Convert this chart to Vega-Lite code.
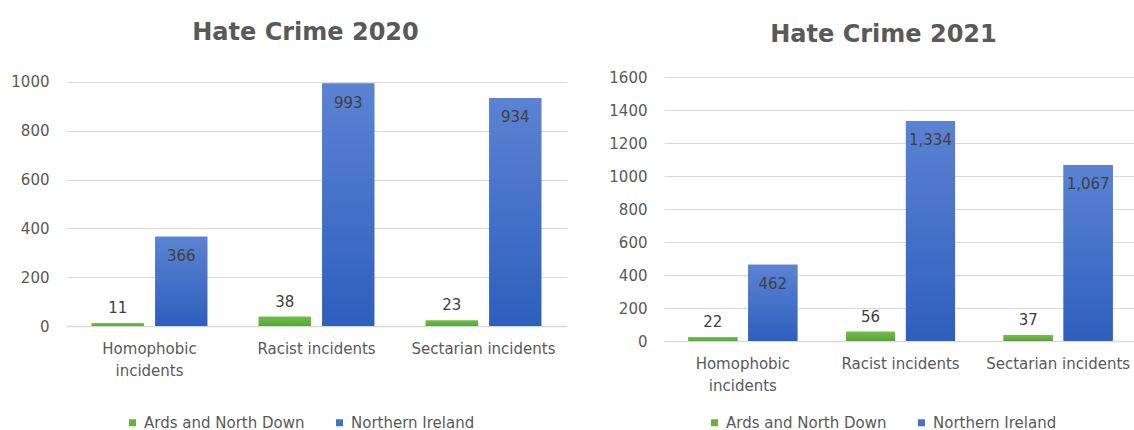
{
  "$schema": "https://vega.github.io/schema/vega-lite/v6.json",
  "background": "white",
  "padding": {"left": 10, "top": 20, "right": 0, "bottom": 0},
  "datasets": {
    "crime": [
      {"year": 2020, "category": "Homophobic incidents", "series": "Ards and North Down", "value": 11},
      {"year": 2020, "category": "Homophobic incidents", "series": "Northern Ireland", "value": 366},
      {"year": 2020, "category": "Racist incidents", "series": "Ards and North Down", "value": 38},
      {"year": 2020, "category": "Racist incidents", "series": "Northern Ireland", "value": 993},
      {"year": 2020, "category": "Sectarian incidents", "series": "Ards and North Down", "value": 23},
      {"year": 2020, "category": "Sectarian incidents", "series": "Northern Ireland", "value": 934},
      {"year": 2021, "category": "Homophobic incidents", "series": "Ards and North Down", "value": 22},
      {"year": 2021, "category": "Homophobic incidents", "series": "Northern Ireland", "value": 462},
      {"year": 2021, "category": "Racist incidents", "series": "Ards and North Down", "value": 56},
      {"year": 2021, "category": "Racist incidents", "series": "Northern Ireland", "value": 1334},
      {"year": 2021, "category": "Sectarian incidents", "series": "Ards and North Down", "value": 37},
      {"year": 2021, "category": "Sectarian incidents", "series": "Northern Ireland", "value": 1067}
    ]
  },
  "config": {
    "font": "DejaVu Sans",
    "view": {"stroke": null},
    "title": {"font": "DejaVu Sans", "fontSize": 24, "fontWeight": "bold", "color": "#595959", "anchor": "middle"},
    "axisX": {
      "title": null, "labelAngle": 0, "ticks": false, "domainColor": "#d9d9d9", "domainWidth": 1.5,
      "labelColor": "#595959", "labelFont": "DejaVu Sans", "labelFontSize": 15, "labelPadding": 15,
      "labelLineHeight": 22, "grid": false,
      "labelExpr": "datum.label == 'Homophobic incidents' ? ['Homophobic', 'incidents'] : datum.label"
    },
    "axisY": {
      "title": null, "domain": false, "ticks": false, "grid": true, "gridColor": "#d9d9d9", "gridWidth": 1.2,
      "labelColor": "#595959", "labelFont": "DejaVu Sans", "labelFontSize": 15, "labelPadding": 17, "format": "d"
    },
    "legend": {
      "orient": "none", "direction": "horizontal", "title": null, "symbolType": "square", "symbolSize": 49,
      "labelFont": "DejaVu Sans", "labelFontSize": 15, "labelColor": "#595959", "columnPadding": 27, "labelOffset": 4,
      "symbolStrokeWidth": 0, "labelLimit": 0
    }
  },
  "spacing": 41,
  "resolve": {"scale": {"y": "independent", "x": "independent", "xOffset": "independent"}, "legend": {"color": "independent"}},
  "hconcat": [
    {
      "title": {"text": "Hate Crime 2020", "dx": -11, "dy": -4, "offset": 26},
      "width": 501,
      "height": 249,
      "data": {"name": "crime"},
      "transform": [{"filter": "datum.year == 2020"}],
      "encoding": {
        "x": {"field": "category", "type": "nominal", "sort": ["Homophobic incidents", "Racist incidents", "Sectarian incidents"], "scale": {"paddingInner": 0, "paddingOuter": 0}},
        "xOffset": {"field": "series", "type": "nominal", "scale": {"domain": ["Ards and North Down", "Northern Ireland"], "paddingInner": 0.18, "paddingOuter": 0.405}},
        "y": {"field": "value", "type": "quantitative", "scale": {"domain": [0, 1020], "nice": false}, "axis": {"values": [0, 200, 400, 600, 800, 1000]}}
      },
      "layer": [
        {
          "mark": {"type": "bar"},
          "encoding": {"color": {"field": "series", "type": "nominal", "scale": {"domain": ["Ards and North Down", "Northern Ireland"], "range": ["#66b040", "#4472c4"]}, "legend": {"legendX": 59, "legendY": 338}}}
        },
        {
          "transform": [{"filter": "datum.series == 'Northern Ireland'"}],
          "mark": {"type": "bar", "color": {"gradient": "linear", "x1": 0, "y1": 0, "x2": 0, "y2": 1, "stops": [{"offset": 0, "color": "#5b83d3"}, {"offset": 1, "color": "#2e5fbd"}]}}
        },
        {
          "transform": [{"filter": "datum.series == 'Ards and North Down'"}],
          "mark": {"type": "bar", "color": {"gradient": "linear", "x1": 0, "y1": 0, "x2": 0, "y2": 1, "stops": [{"offset": 0, "color": "#72bd4a"}, {"offset": 1, "color": "#5aa336"}]}}
        },
        {
          "transform": [{"filter": "datum.series == 'Northern Ireland'"}],
          "mark": {"type": "text", "baseline": "middle", "dy": 19, "fontSize": 15, "color": "#404040", "font": "DejaVu Sans"},
          "encoding": {"text": {"field": "value", "type": "quantitative", "format": ","}}
        },
        {
          "transform": [{"filter": "datum.series == 'Ards and North Down'"}],
          "mark": {"type": "text", "baseline": "bottom", "dy": -7, "fontSize": 15, "color": "#404040", "font": "DejaVu Sans"},
          "encoding": {"text": {"field": "value", "type": "quantitative", "format": ","}}
        }
      ]
    },
    {
      "title": {"text": "Hate Crime 2021", "dx": -17, "dy": -1, "offset": 22},
      "width": 473,
      "height": 264,
      "data": {"name": "crime"},
      "transform": [{"filter": "datum.year == 2021"}],
      "encoding": {
        "x": {"field": "category", "type": "nominal", "sort": ["Homophobic incidents", "Racist incidents", "Sectarian incidents"], "scale": {"paddingInner": 0, "paddingOuter": 0}},
        "xOffset": {"field": "series", "type": "nominal", "scale": {"domain": ["Ards and North Down", "Northern Ireland"], "paddingInner": 0.18, "paddingOuter": 0.405}},
        "y": {"field": "value", "type": "quantitative", "scale": {"domain": [0, 1600]}, "axis": {"values": [0, 200, 400, 600, 800, 1000, 1200, 1400, 1600]}}
      },
      "layer": [
        {
          "mark": {"type": "bar"},
          "encoding": {"color": {"field": "series", "type": "nominal", "scale": {"domain": ["Ards and North Down", "Northern Ireland"], "range": ["#66b040", "#4472c4"]}, "legend": {"legendX": 43, "legendY": 338}}}
        },
        {
          "transform": [{"filter": "datum.series == 'Northern Ireland'"}],
          "mark": {"type": "bar", "color": {"gradient": "linear", "x1": 0, "y1": 0, "x2": 0, "y2": 1, "stops": [{"offset": 0, "color": "#5b83d3"}, {"offset": 1, "color": "#2e5fbd"}]}}
        },
        {
          "transform": [{"filter": "datum.series == 'Ards and North Down'"}],
          "mark": {"type": "bar", "color": {"gradient": "linear", "x1": 0, "y1": 0, "x2": 0, "y2": 1, "stops": [{"offset": 0, "color": "#72bd4a"}, {"offset": 1, "color": "#5aa336"}]}}
        },
        {
          "transform": [{"filter": "datum.series == 'Northern Ireland'"}],
          "mark": {"type": "text", "baseline": "middle", "dy": 19, "fontSize": 15, "color": "#404040", "font": "DejaVu Sans"},
          "encoding": {"text": {"field": "value", "type": "quantitative", "format": ","}}
        },
        {
          "transform": [{"filter": "datum.series == 'Ards and North Down'"}],
          "mark": {"type": "text", "baseline": "bottom", "dy": -7, "fontSize": 15, "color": "#404040", "font": "DejaVu Sans"},
          "encoding": {"text": {"field": "value", "type": "quantitative", "format": ","}}
        }
      ]
    }
  ]
}
